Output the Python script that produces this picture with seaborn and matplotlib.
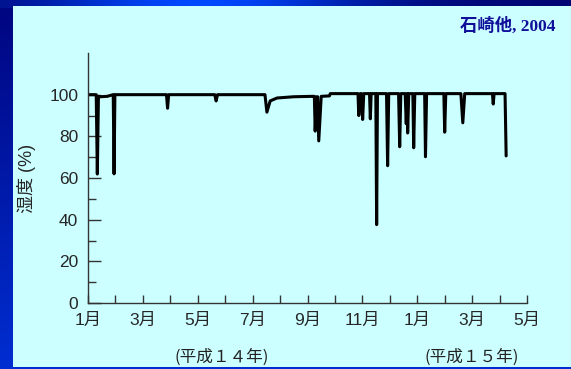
import matplotlib
matplotlib.use('Agg')
import matplotlib.pyplot as plt
import seaborn as sns
import pandas as pd
import numpy as np
from matplotlib.patches import Rectangle

# humidity trace, x = months since 1 Jan (H14), y = %
month = [0.00, 0.30, 0.34, 0.38, 0.45, 0.70, 0.92, 0.95, 0.98,
         2.86, 2.90, 2.94, 4.62, 4.67, 4.72,
         6.45, 6.52, 6.64, 6.89, 7.50, 8.20,
         8.25, 8.28, 8.33, 8.37, 8.41, 8.50, 8.80, 8.83,
         9.84, 9.87, 9.92, 9.97, 10.01, 10.05, 10.26, 10.29, 10.32,
         10.49, 10.52, 10.55, 10.88, 10.92, 10.96, 11.32, 11.36, 11.40,
         11.56, 11.60, 11.63, 11.65, 11.69, 11.84, 11.87, 11.91,
         12.27, 12.30, 12.34, 12.97, 13.00, 13.04, 13.59, 13.66, 13.73,
         14.74, 14.77, 14.80, 15.20, 15.24]
humidity = [100.0, 100.0, 61.9, 99.2, 99.0, 99.2, 100.0, 62.0, 100.0,
            100.0, 93.5, 100.0, 100.0, 97.0, 100.0,
            100.0, 91.6, 97.0, 98.4, 99.0, 99.2,
            99.2, 82.5, 99.0, 99.0, 77.8, 99.2, 99.4, 100.5,
            100.5, 90.0, 100.5, 100.5, 88.1, 100.5, 100.5, 88.4, 100.5,
            100.5, 37.6, 100.5, 100.5, 65.9, 100.5, 100.5, 75.0, 100.5,
            100.5, 86.0, 100.5, 81.6, 100.5, 100.5, 74.5, 100.5,
            100.5, 70.2, 100.5, 100.5, 82.0, 100.5, 100.5, 86.5, 100.5,
            100.5, 95.5, 100.5, 100.5, 70.6]

tick_pos = list(range(0, 17))
tick_labels = ['1月', '', '3月', '', '5月', '', '7月', '', '9月', '', '11月', '',
               '1月', '', '3月', '', '5月']
year_labels = ['(平成１４年)', '(平成１５年)']
year_x = [222, 472]

df = pd.DataFrame({'month': month, 'humidity': humidity})

sns.set_style('ticks')
plt.rcParams['font.family'] = ['Liberation Sans', 'Noto Sans CJK JP']

W, H = 571, 369
fig = plt.figure(figsize=(W / 100, H / 100), dpi=100)

# blue slide frame
bg = fig.add_axes([0, 0, 1, 1])
bg.axis('off')
xs = np.linspace(0, 1, W)
ys = np.linspace(0, 1, H)
img = np.zeros((H, W, 3))
img[:, :, 1] = (0.02 + 0.16 * ys)[:, None]
img[:, :, 2] = (0.50 + 0.32 * ys)[:, None]
glow = np.exp(-((xs - 0.35) / 0.28) ** 2)
img[:8, :, 1] = 0.02 + 0.26 * glow
img[:8, :, 2] = 0.45 + 0.55 * glow
bg.imshow(img, extent=[0, 1, 0, 1], aspect='auto')
bg.set_xlim(0, 1)
bg.set_ylim(0, 1)
bg.add_patch(Rectangle((13 / W, 2 / H), 1 - 13 / W, (H - 8) / H,
                       facecolor='#CCFFFF', edgecolor='none'))

ax = fig.add_axes([88 / W, 66 / H, 439 / W, 250 / H])
ax.patch.set_alpha(0)
sns.lineplot(data=df, x='month', y='humidity', sort=False, estimator=None,
             color='black', lw=2.2, ax=ax)

ax.set_xlim(0, 16)
ax.set_ylim(0, 120)
ax.set_xticks(tick_pos)
ax.set_xticklabels(tick_labels)
ax.set_yticks(range(0, 101, 20))
ax.set_yticks([10, 30, 50, 70, 90], minor=True)
ax.tick_params(axis='x', direction='in', length=6, width=1, pad=7,
               labelsize=12.5, color='#333333')
ax.tick_params(axis='y', which='major', direction='in', length=9, width=1,
               pad=7, labelsize=12.5, color='#333333')
ax.tick_params(axis='y', which='minor', direction='in', length=6, width=1,
               color='#333333')
sns.despine(ax=ax)
for s in ['left', 'bottom']:
    ax.spines[s].set_color('#333333')
    ax.spines[s].set_linewidth(1)
ax.set_xlabel('')
ax.set_ylabel('湿度 (%)', fontsize=13)
ax.yaxis.set_label_coords(-0.118, 0.5)

for lab, x in zip(year_labels, year_x):
    fig.text(x / W, 1 - 357 / H, lab, ha='center', va='center', fontsize=12,
             color='#222222', family=['Noto Sans CJK JP'])

fig.text(555 / W, 1 - 26 / H, '石崎他, 2004', ha='right', va='center',
         fontsize=12.5, fontweight='bold', color='#10109a',
         family=['Liberation Serif', 'Noto Sans CJK JP'])

fig.savefig('out.png', dpi=100)
